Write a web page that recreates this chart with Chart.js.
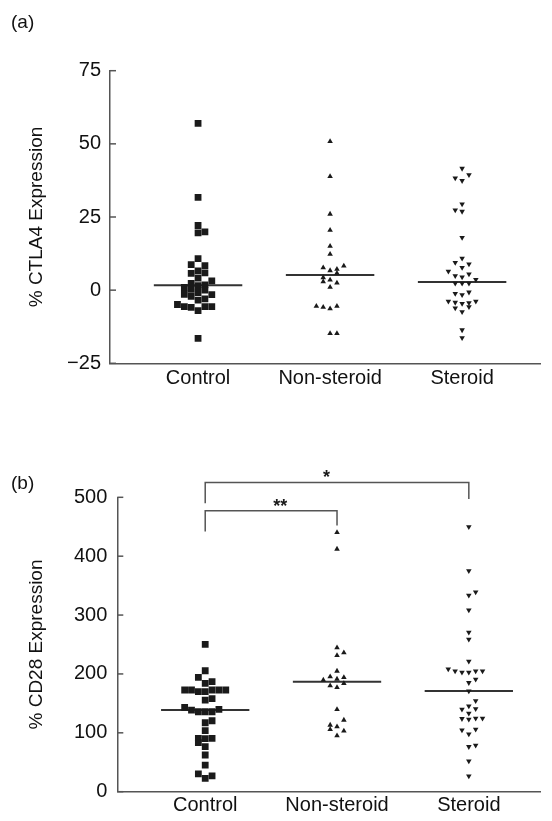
<!DOCTYPE html>
<html>
<head>
<meta charset="utf-8">
<script src="https://cdn.jsdelivr.net/npm/chart.js@4.4.1/dist/chart.umd.min.js"></script>
<style>
  body { margin: 0; background: #fff; }
  #wrap { position: relative; width: 552px; height: 821px; font-family: "Liberation Sans", Arial, sans-serif; }
  .box { position: absolute; left: 0; width: 552px; }
  .panel-label { position: absolute; left: 11px; font-size: 19px; line-height: 22px; color: #111; }
</style>
</head>
<body>
<div id="wrap">
  <div class="box" style="top:0;height:410px"><canvas id="chartA"></canvas></div>
  <div class="box" style="top:410px;height:411px"><canvas id="chartB"></canvas></div>
  <div class="panel-label" style="top:11px">(a)</div>
  <div class="panel-label" style="top:472px">(b)</div>
</div>
<script>
// Categories and axis ticks
const categories = ['Control', 'Non-steroid', 'Steroid'];
const ticksA = [-25, 0, 25, 50, 75];
const ticksB = [0, 100, 200, 300, 400, 500];

// Panel (a) % CTLA4 expression: [value, swarm column]
const ctlaControl = [[57.0,0],[31.7,0],[22.1,0],[19.6,0],[19.9,1],[10.8,0],[8.7,-1],[8.4,1],[6.6,0],[5.7,-1],[5.9,1],[4.1,0],[3.2,2],[2.3,-1],[0.9,-2],[-1.4,-2],[0.3,-1],[1.5,0],[1.8,1],[0.0,1],[-0.8,0],[-2.1,-1],[-1.5,2],[-3.0,1],[-3.4,0],[-4.9,-3],[-5.6,-2],[-5.9,-1],[-5.6,1],[-5.6,2],[-7.0,0],[-16.5,0]];
const ctlaNonSteroid = [[50.8,0],[38.9,0],[26.0,0],[20.5,0],[15.0,0],[12.3,0],[7.7,-1],[8.3,2],[6.7,0],[7.2,1],[5.8,1],[4.3,-1],[2.9,-1],[3.5,0],[2.5,1],[1.0,0],[-5.5,-2],[-5.8,-1],[-6.3,0],[-5.5,1],[-14.8,0],[-14.8,1]];
const ctlaSteroid = [[41.6,0],[39.4,1],[38.3,-1],[37.4,0],[29.4,0],[27.4,-1],[26.9,0],[18.0,0],[10.9,0],[9.4,-1],[8.9,1],[7.7,0],[6.4,-2],[4.9,-1],[4.5,0],[5.5,1],[3.6,2],[2.3,-1],[2.3,0],[2.3,1],[-1.2,-1],[-1.6,0],[-0.7,1],[-3.8,-2],[-4.2,-1],[-4.6,0],[-4.3,1],[-3.8,2],[-6.1,-1],[-5.7,1],[-7.4,0],[-13.6,0],[-16.3,0]];
const ctlaMedians = [1.7, 5.2, 2.8];

// Panel (b) % CD28 expression: [value, swarm column]
const cd28Control = [[250.2,0],[205.4,0],[194.2,-1],[184.0,0],[186.8,1],[172.7,-3],[172.7,-2],[169.8,-1],[169.8,0],[172.7,1],[172.7,2],[172.7,3],[155.7,0],[157.9,1],[143.3,-3],[138.7,-2],[135.8,-1],[135.8,0],[135.8,1],[139.9,2],[117.1,0],[120.5,1],[103.6,0],[90.7,-1],[83.2,-1],[90.0,0],[90.7,1],[76.4,0],[62.3,0],[45.3,0],[30.1,-1],[22.8,0],[26.7,1]];
const cd28NonSteroid = [[440.4,0],[412.1,0],[244.5,0],[236.0,1],[231.6,0],[204.9,0],[195.2,-1],[194.2,1],[191.3,0],[189.6,-2],[184.0,1],[180.0,-1],[177.2,0],[139.9,0],[121.7,1],[113.2,-1],[110.4,0],[105.9,-1],[103.1,1],[95.1,0]];
const cd28Steroid = [[450.0,0],[375.2,0],[333.4,0],[339.0,1],[308.5,0],[270.6,0],[258.7,0],[221.4,0],[208.3,-3],[204.9,-2],[202.7,-1],[202.7,0],[204.9,1],[204.9,2],[185.1,0],[190.8,1],[171.0,0],[154.5,1],[145.5,0],[139.9,-1],[140.9,1],[133.1,0],[124.0,-1],[122.9,0],[124.6,1],[124.6,2],[104.8,-1],[98.0,0],[105.9,1],[76.4,0],[78.8,1],[52.1,0],[26.7,0]];
const cd28Medians = [138.7, 186.8, 171.0];

// Significance brackets (b): [from category, to category, left foot, right foot, top]
const sigBrackets = [[1, 2, 442, 452, 477], [1, 3, 490, 497, 525]];
const sigLabels = ['**', '*'];
const sigLabelX = [1.57, 1.92];
const sigLabelY = [492, 541];

Chart.defaults.font.family = '"Liberation Sans", Arial, sans-serif';
Chart.defaults.font.size = 20;
Chart.defaults.color = '#111';

const COL = 0.052;      // category units per swarm column
const HALF = 0.335;     // half length of median bar
const INK = '#1a1a1a';
const AXIS = '#555';

function swarm(pairs, cat) {
    return pairs.map(([v, c]) => ({ x: cat + c * COL, y: v }));
}

function medianSets(medians) {
    return medians.map((m, i) => ({
        type: 'line',
        data: [{ x: i + 1 - HALF, y: m }, { x: i + 1 + HALF, y: m }],
        borderColor: '#333',
        borderWidth: 2,
        pointRadius: 0
    }));
}

function pointSet(data, style, radius, rotation) {
    return {
        data: data,
        pointStyle: style,
        pointRadius: radius,
        rotation: rotation || 0,
        backgroundColor: INK,
        borderColor: INK,
        borderWidth: 0
    };
}

// y axis ticks drawn inward, like the original
const inwardTicks = {
    id: 'inwardTicks',
    afterDraw(chart) {
        const y = chart.scales.y;
        const ctx = chart.ctx;
        ctx.save();
        ctx.strokeStyle = AXIS;
        ctx.lineWidth = 1.5;
        y.ticks.forEach((t, i) => {
            const py = y.getPixelForTick(i);
            ctx.beginPath();
            ctx.moveTo(y.right, py);
            ctx.lineTo(y.right + 6, py);
            ctx.stroke();
        });
        ctx.restore();
    }
};

// asterisks over the brackets
const sigText = {
    id: 'sigText',
    afterDraw(chart) {
        if (!chart.options.plugins.sigText) return;
        const { x, y } = chart.scales;
        const ctx = chart.ctx;
        ctx.save();
        ctx.fillStyle = INK;
        ctx.font = 'bold 18px "Liberation Sans", Arial, sans-serif';
        ctx.textAlign = 'center';
        ctx.textBaseline = 'alphabetic';
        sigLabels.forEach((lab, i) => {
            const px = x.getPixelForValue(sigLabelX[i]);
            const py = y.getPixelForValue(sigLabelY[i]);
            ctx.fillText(lab, px, py + 10);
        });
        ctx.restore();
    }
};

function makeChart(id, cfg) {
    const yTicks = cfg.ticks;
    return new Chart(document.getElementById(id), {
        type: 'scatter',
        data: { datasets: cfg.datasets },
        plugins: [inwardTicks, sigText],
        options: {
            responsive: true,
            maintainAspectRatio: false,
            animation: false,
            layout: { padding: { top: cfg.top, right: 12, left: 0, bottom: 0 } },
            plugins: { legend: { display: false }, tooltip: { enabled: false }, sigText: cfg.sig },
            scales: {
                x: {
                    type: 'linear',
                    min: 0.333,
                    max: cfg.xMax,
                    afterBuildTicks: s => { s.ticks = [1, 2, 3].map(v => ({ value: v })); },
                    afterFit: s => { s.height = cfg.xHeight; },
                    ticks: { padding: cfg.xPad, color: '#111', callback: v => categories[v - 1] },
                    grid: { display: false, drawTicks: false },
                    border: { display: true, color: AXIS, width: 1.5 }
                },
                y: {
                    min: yTicks[0],
                    max: yTicks[yTicks.length - 1],
                    afterBuildTicks: s => { s.ticks = yTicks.map(v => ({ value: v })); },
                    afterFit: s => { s.width = cfg.yWidth; },
                    ticks: { padding: cfg.yPad, color: '#111', callback: v => String(v).replace('-', '\u2212') },
                    grid: { display: false, drawTicks: false },
                    border: { display: true, color: AXIS, width: 1.5 },
                    title: { display: true, text: cfg.title, color: '#111', font: { size: 19 }, padding: { top: 25, bottom: 0 } }
                }
            }
        }
    });
}

makeChart('chartA', {
    ticks: ticksA,
    title: '% CTLA4 Expression',
    top: 70.7,
    xHeight: 46.7,
    xPad: 3,
    yWidth: 110,
    yPad: 9,
    xMax: 3.59,
    sig: false,
    datasets: [
        pointSet(swarm(ctlaControl, 1), 'rect', 4.8),
        pointSet(swarm(ctlaNonSteroid, 2), 'triangle', 3.2),
        pointSet(swarm(ctlaSteroid, 3), 'triangle', 3.2, 180)
    ].concat(medianSets(ctlaMedians))
});

const bracketSets = sigBrackets.map(b => ({
    type: 'line',
    data: [{ x: b[0], y: b[2] }, { x: b[0], y: b[4] }, { x: b[1], y: b[4] }, { x: b[1], y: b[3] }],
    borderColor: AXIS,
    borderWidth: 1.5,
    pointRadius: 0,
    clip: false
}));

makeChart('chartB', {
    ticks: ticksB,
    title: '% CD28 Expression',
    top: 87.3,
    xHeight: 29.3,
    xPad: 2,
    yWidth: 117.3,
    yPad: 10,
    xMax: 3.54,
    sig: true,
    datasets: [
        pointSet(swarm(cd28Control, 1), 'rect', 4.8),
        pointSet(swarm(cd28NonSteroid, 2), 'triangle', 3.2),
        pointSet(swarm(cd28Steroid, 3), 'triangle', 3.2, 180)
    ].concat(medianSets(cd28Medians), bracketSets)
});
</script>
</body>
</html>
